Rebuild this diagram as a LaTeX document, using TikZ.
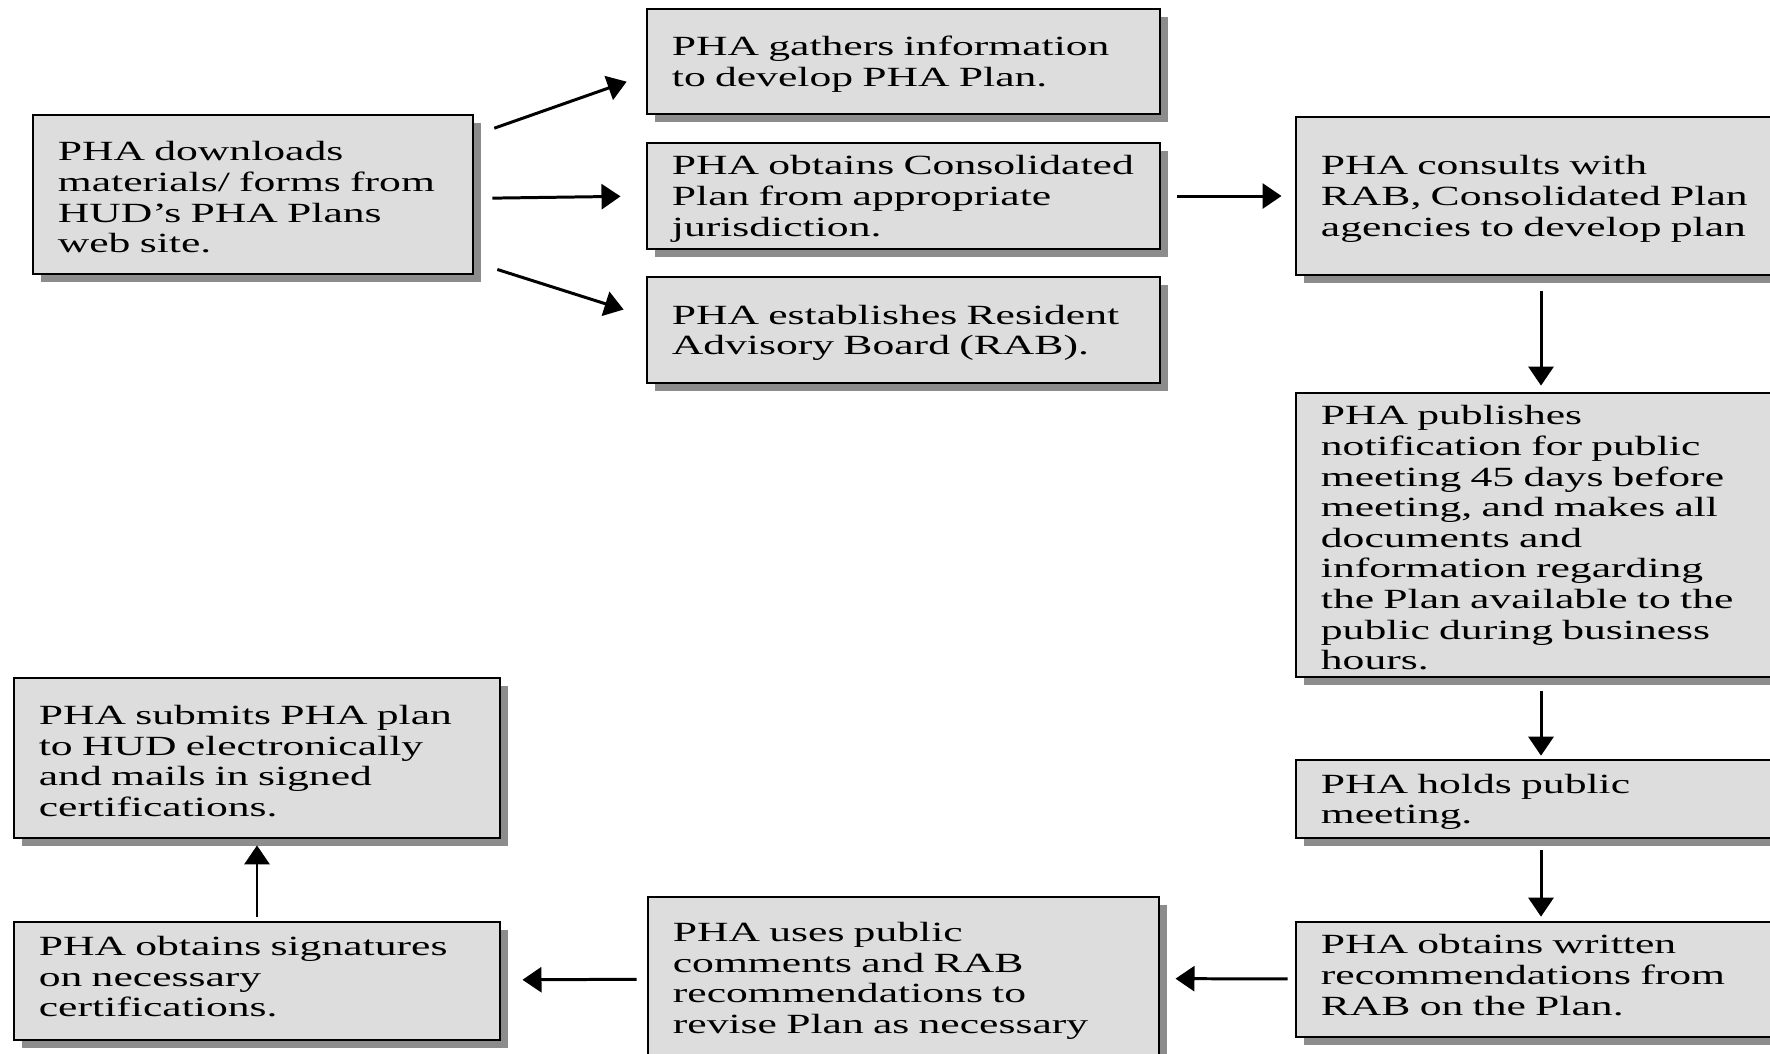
\documentclass[tikz,border=0pt]{standalone}
\usepackage{fontspec}
\setmainfont[FakeStretch=1.57]{Liberation Serif}
\usetikzlibrary{arrows.meta,shadows,positioning}
\definecolor{boxgray}{HTML}{DDDDDD}
\definecolor{shadowgray}{HTML}{8C8C8C}

\begin{document}
\begin{tikzpicture}[
  x=0.01cm, y=-0.01cm,
  every node/.style={draw, line width=0.75pt, fill=boxgray, align=left, inner xsep=0.25cm, inner ysep=0pt,
    font=\fontsize{7.9pt}{8.7pt}\selectfont, execute at begin node={\rule{0pt}{7.1pt}},
    drop shadow={shadow xshift=0.08cm, shadow yshift=-0.08cm, fill=shadowgray, opacity=1}},
  arrow/.style={-{Triangle[width=0.25cm,length=0.19cm]}, line width=0.85pt}
]
\useasboundingbox (0,0) rectangle (1770,1053);
\node (download) [text width=3.9cm, minimum height=1.59cm] at (253,194.5) {PHA downloads\\materials/ forms from\\HUD's PHA Plans\\web site.};
\node (gathers) [text width=4.63cm, minimum height=1.05cm] at (903.5,61.5) {PHA gathers information\\to develop PHA Plan.};
\node (consolidated) [text width=4.63cm, minimum height=1.06cm] at (903.5,196) {PHA obtains Consolidated\\Plan from appropriate\\jurisdiction.};
\node (rab) [text width=4.63cm, minimum height=1.06cm] at (903.5,330) {PHA establishes Resident\\Advisory Board (RAB).};
\node (consults) [text width=4.4cm, minimum height=1.58cm] at (1541,196) {PHA consults with\\RAB, Consolidated Plan\\agencies to develop plan};
\node (publishes) [text width=4.4cm, minimum height=2.84cm] at (1541,535) {PHA publishes\\notification for public\\meeting 45 days before\\meeting, and makes all\\documents and\\information regarding\\the Plan available to the\\public during business\\hours.};
\node (holds) [text width=4.4cm, minimum height=0.78cm] at (1541,799) {PHA holds public\\meeting.};
\node (written) [text width=4.4cm, minimum height=1.15cm, text depth=0.76cm] at (1541,979.5) {PHA obtains written\\recommendations from\\RAB on the Plan.};
\node (uses) [text width=4.61cm, minimum height=1.62cm] at (903.5,978) {PHA uses public\\comments and RAB\\recommendations to\\revise Plan as necessary};
\node (signatures) [text width=4.36cm, minimum height=1.18cm, text depth=0.76cm] at (257,981) {PHA obtains signatures\\on necessary\\certifications.};
\node (submits) [text width=4.36cm, minimum height=1.60cm] at (257,758) {PHA submits PHA plan\\to HUD electronically\\and mails in signed\\certifications.};
\draw[arrow, shorten <=0.21cm, shorten >=0.2cm] (download.15) -- (gathers.183);
\draw[arrow, shorten <=0.18cm, shorten >=0.25cm] (download.-1) -- (consolidated.180.5);
\draw[arrow, shorten <=0.24cm, shorten >=0.23cm] (download.-17) -- (rab.177.8);
\draw[arrow, shorten <=0.16cm, shorten >=0.13cm] (consolidated) -- (consults);
\draw[arrow, shorten <=0.15cm, shorten >=0.06cm] (consults) -- (publishes);
\draw[arrow, shorten <=0.13cm, shorten >=0.03cm] (publishes) -- (holds);
\draw[arrow, shorten <=0.11cm, shorten >=0.04cm] (holds) -- (written);
\draw[arrow, shorten <=0.07cm, shorten >=0.15cm] (written) -- (uses);
\draw[arrow, shorten <=0.10cm, shorten >=0.21cm] (uses) -- (signatures);
\draw[arrow, shorten <=0.04cm, shorten >=0.06cm] (signatures) -- (submits);
\end{tikzpicture}
\end{document}
